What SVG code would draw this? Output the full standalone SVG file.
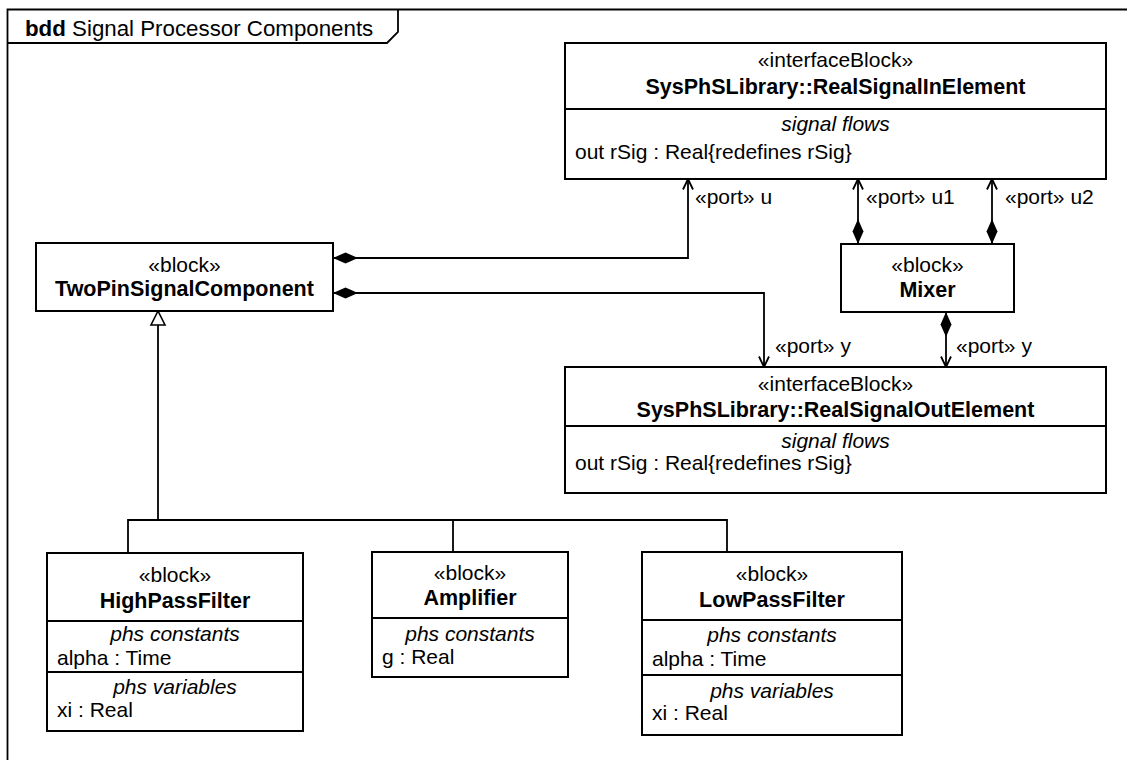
<svg xmlns="http://www.w3.org/2000/svg" width="1127" height="760" viewBox="0 0 1127 760">
<style>
text { font-family: "Liberation Sans", Arial, sans-serif; font-size: 21px; fill: #000; }
.b { font-weight: bold; font-size: 21.5px; }
.i { font-style: italic; }
.c { text-anchor: middle; }
.box { fill: #fff; stroke: #000; stroke-width: 2; }
.div { stroke: #000; stroke-width: 2; fill: none; }
.ln { fill: none; stroke: #000; stroke-width: 1.8; }
.comp { marker-start: url(#diamond); marker-end: url(#open); }
</style>
<defs>
<marker id="diamond" viewBox="0 -6 25 12" refX="0" refY="0" markerWidth="25" markerHeight="12" markerUnits="userSpaceOnUse" orient="auto">
<path d="M0,0 L12.5,-5.5 L25,0 L12.5,5.5 Z" fill="#000"/>
</marker>
<marker id="open" viewBox="-13 -7 15 14" refX="0" refY="0" markerWidth="15" markerHeight="14" markerUnits="userSpaceOnUse" orient="auto">
<path d="M-10.5,-5 L0,0 L-10.5,5" fill="none" stroke="#000" stroke-width="1.8"/>
</marker>
<marker id="tri" viewBox="-16 -9 18 18" refX="0" refY="0" markerWidth="18" markerHeight="18" markerUnits="userSpaceOnUse" orient="auto">
<path d="M0,0 L-14,-7 L-14,7 Z" fill="#fff" stroke="#000" stroke-width="1.6"/>
</marker>
</defs>
<rect width="1127" height="760" fill="#fff"/>

<g id="frame">
<path d="M7.5,760 V9.5 H1127" class="ln" stroke-width="2"/>
<path d="M7.5,43 H387 L398,32 V9.5" class="ln" stroke-width="2"/>
<text x="25" y="35.5" style="font-size:22.3px"><tspan style="font-weight:bold">bdd</tspan> Signal Processor Components</text>
</g>

<g id="connectors">
<path class="ln comp" d="M333,258 H688 V179"/>
<path class="ln comp" d="M333,293 H764 V367"/>
<path class="ln comp" d="M858,244 V179"/>
<path class="ln comp" d="M992,244 V179"/>
<path class="ln comp" d="M946,312 V367"/>
<path class="ln" d="M128,553 V520 H727 V552"/>
<path class="ln" d="M453,520 V552"/>
<path class="ln" d="M158,520 V311" marker-end="url(#tri)"/>
<text x="695" y="204">«port» u</text>
<text x="866" y="204">«port» u1</text>
<text x="1005" y="204">«port» u2</text>
<text x="775" y="353">«port» y</text>
<text x="956" y="353">«port» y</text>
</g>

<g id="RealSignalInElement">
<rect class="box" x="565" y="43" width="541" height="136"/>
<line class="div" x1="565" y1="109" x2="1106" y2="109"/>
<text class="c" x="835.5" y="67">«interfaceBlock»</text>
<text class="c b" x="835.5" y="94">SysPhSLibrary::RealSignalInElement</text>
<text class="c i" x="835.5" y="131">signal flows</text>
<text x="575" y="159">out rSig : Real{redefines rSig}</text>
</g>

<g id="RealSignalOutElement">
<rect class="box" x="565" y="367" width="541" height="126"/>
<line class="div" x1="565" y1="426" x2="1106" y2="426"/>
<text class="c" x="835.5" y="391">«interfaceBlock»</text>
<text class="c b" x="835.5" y="417">SysPhSLibrary::RealSignalOutElement</text>
<text class="c i" x="835.5" y="448">signal flows</text>
<text x="575" y="470">out rSig : Real{redefines rSig}</text>
</g>

<g id="TwoPinSignalComponent">
<rect class="box" x="36" y="243" width="297" height="68"/>
<text class="c" x="184.5" y="271.5">«block»</text>
<text class="c b" x="184.5" y="296">TwoPinSignalComponent</text>
</g>

<g id="Mixer">
<rect class="box" x="841" y="244" width="173" height="68"/>
<text class="c" x="927.5" y="271.5">«block»</text>
<text class="c b" x="927.5" y="297">Mixer</text>
</g>

<g id="HighPassFilter">
<rect class="box" x="47" y="553" width="256" height="178"/>
<line class="div" x1="47" y1="621" x2="303" y2="621"/>
<line class="div" x1="47" y1="672" x2="303" y2="672"/>
<text class="c" x="175" y="582">«block»</text>
<text class="c b" x="175" y="607.5">HighPassFilter</text>
<text class="c i" x="175" y="641">phs constants</text>
<text x="57" y="665">alpha : Time</text>
<text class="c i" x="175" y="694">phs variables</text>
<text x="57" y="717">xi : Real</text>
</g>

<g id="Amplifier">
<rect class="box" x="372" y="552" width="196" height="125"/>
<line class="div" x1="372" y1="618" x2="568" y2="618"/>
<text class="c" x="470" y="580">«block»</text>
<text class="c b" x="470" y="604.5">Amplifier</text>
<text class="c i" x="470" y="640.5">phs constants</text>
<text x="382" y="664">g : Real</text>
</g>

<g id="LowPassFilter">
<rect class="box" x="642" y="552" width="260" height="183"/>
<line class="div" x1="642" y1="620" x2="902" y2="620"/>
<line class="div" x1="642" y1="675" x2="902" y2="675"/>
<text class="c" x="772" y="581">«block»</text>
<text class="c b" x="772" y="606.5">LowPassFilter</text>
<text class="c i" x="772" y="641.5">phs constants</text>
<text x="652" y="666">alpha : Time</text>
<text class="c i" x="772" y="697.5">phs variables</text>
<text x="652" y="720">xi : Real</text>
</g>
</svg>
